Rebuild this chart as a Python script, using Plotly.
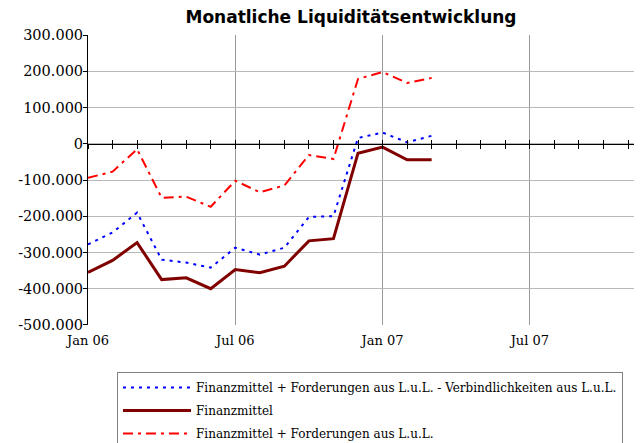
import plotly.graph_objects as go

# ---- data ----
all_months = ["Jan 06", "Feb 06", "Mrz 06", "Apr 06", "Mai 06", "Jun 06",
              "Jul 06", "Aug 06", "Sep 06", "Okt 06", "Nov 06", "Dez 06",
              "Jan 07", "Feb 07", "Mrz 07", "Apr 07", "Mai 07", "Jun 07",
              "Jul 07", "Aug 07", "Sep 07", "Okt 07", "Nov 07"]
data_months = all_months[:15]

fm_ford_minus_verb = [-278000, -245000, -190000, -320000, -328000, -342000,
                      -287000, -306000, -287000, -202000, -200000,
                      16000, 31000, 4000, 22000]
finanzmittel = [-355000, -322000, -273000, -375000, -370000, -400000,
                -347000, -356000, -338000, -268000, -262000,
                -26000, -9000, -44000, -44000]
fm_plus_ford = [-94000, -77000, -15000, -149000, -146000, -174000,
                -102000, -134000, -115000, -31000, -42000,
                179000, 198000, 168000, 182000]

series_names = ["Finanzmittel + Forderungen aus L.u.L. - Verbindlichkeiten aus L.u.L.",
                "Finanzmittel",
                "Finanzmittel + Forderungen aus L.u.L."]

x_tick_text = ["Jan 06", "Jul 06", "Jan 07", "Jul 07"]
y_tick_vals = [300000, 200000, 100000, 0, -100000, -200000, -300000, -400000, -500000]
y_tick_text = ["300.000", "200.000", "100.000", "0", "-100.000", "-200.000",
               "-300.000", "-400.000", "-500.000"]

title_text = "Monatliche Liquiditätsentwicklung"

# ---- derived positions (month index) ----
x_idx = [all_months.index(m) for m in data_months]
x_tick_vals = [all_months.index(t) for t in x_tick_text]
month_ticks = list(range(len(all_months)))

# The page places the figure 8px from the window's top-left corner,
# so the figure is sized/laid out in window pixels minus that offset.
OFF = 8
W, H = 642 - OFF, 443 - OFF
L, R, T, B = 88 - OFF, 0, 35 - OFF, 443 - 325
x_range = [0, 22.57]
y_range = [-500000, 300000]

serif = "DejaVu Serif"

fig = go.Figure()
styles = [dict(color="#0000FF", width=2, dash="3px,5px"),
          dict(color="#800000", width=3),
          dict(color="#FF0000", width=2, dash="10px,5px,3px,5px")]
for i, (vals, st) in enumerate(zip([fm_ford_minus_verb, finanzmittel, fm_plus_ford], styles)):
    fig.add_trace(go.Scatter(x=x_idx, y=vals, mode="lines", name=series_names[i],
                             line=st, legendgroup="g%d" % i, customdata=data_months))

zero_pos = (0 - y_range[0]) / (y_range[1] - y_range[0])

fig.update_layout(
    width=W, height=H,
    margin=dict(l=L, r=R, t=T, b=B, pad=0, autoexpand=False),
    paper_bgcolor="white", plot_bgcolor="white",
    title=dict(text="<b>" + title_text + "</b>", x=(351 - OFF) / W, xref="container",
               xanchor="center",
               y=1 - (17 - OFF) / H, yref="container", yanchor="middle",
               font=dict(family="DejaVu Sans", size=17, color="black")),
    xaxis=dict(range=x_range, tickmode="array", tickvals=x_tick_vals, ticktext=x_tick_text,
               showgrid=True, gridcolor="#999999", gridwidth=1, automargin=False,
               showline=False, zeroline=False,
               ticks="outside", ticklen=3, tickcolor="rgba(0,0,0,0)",
               tickfont=dict(family=serif, size=13, color="black")),
    xaxis2=dict(range=x_range, overlaying="x", anchor="free", position=zero_pos,
                tickmode="array", tickvals=month_ticks, showticklabels=False, automargin=False,
                showgrid=False, zeroline=False, showline=True, linecolor="black", linewidth=1,
                ticks="outside", ticklen=4, tickcolor="black", tickwidth=1),
    xaxis3=dict(range=x_range, overlaying="x", anchor="free", position=zero_pos,
                tickmode="array", tickvals=month_ticks, showticklabels=False, automargin=False,
                showgrid=False, zeroline=False, showline=False,
                ticks="inside", ticklen=4, tickcolor="black", tickwidth=1),
    yaxis=dict(range=[y_range[0] - 400, y_range[1] + 400], tickmode="array",
               tickvals=y_tick_vals, ticktext=y_tick_text, automargin=False,
               showgrid=True, gridcolor="#b8b8b8", gridwidth=1,
               zeroline=False, showline=True, linecolor="black", linewidth=1,
               ticks="outside", ticklen=4, tickcolor="black", ticklabelstandoff=-3,
               tickfont=dict(family=serif, size=14.5, color="black")),
    showlegend=True,
    legend=dict(x=(117 - OFF) / W, xref="container", xanchor="left",
                y=(H - (372 - OFF)) / H, yref="container", yanchor="top",
                bgcolor="white", bordercolor="#808080", borderwidth=1,
                font=dict(family=serif, size=12, color="black"),
                itemwidth=68, traceorder="grouped", tracegroupgap=4),
)

# invisible helper traces so the overlay axes are drawn
fig.add_trace(go.Scatter(x=[None], y=[None], xaxis="x2", showlegend=False, hoverinfo="skip"))
fig.add_trace(go.Scatter(x=[None], y=[None], xaxis="x3", showlegend=False, hoverinfo="skip"))

fig.write_html("out.html")
